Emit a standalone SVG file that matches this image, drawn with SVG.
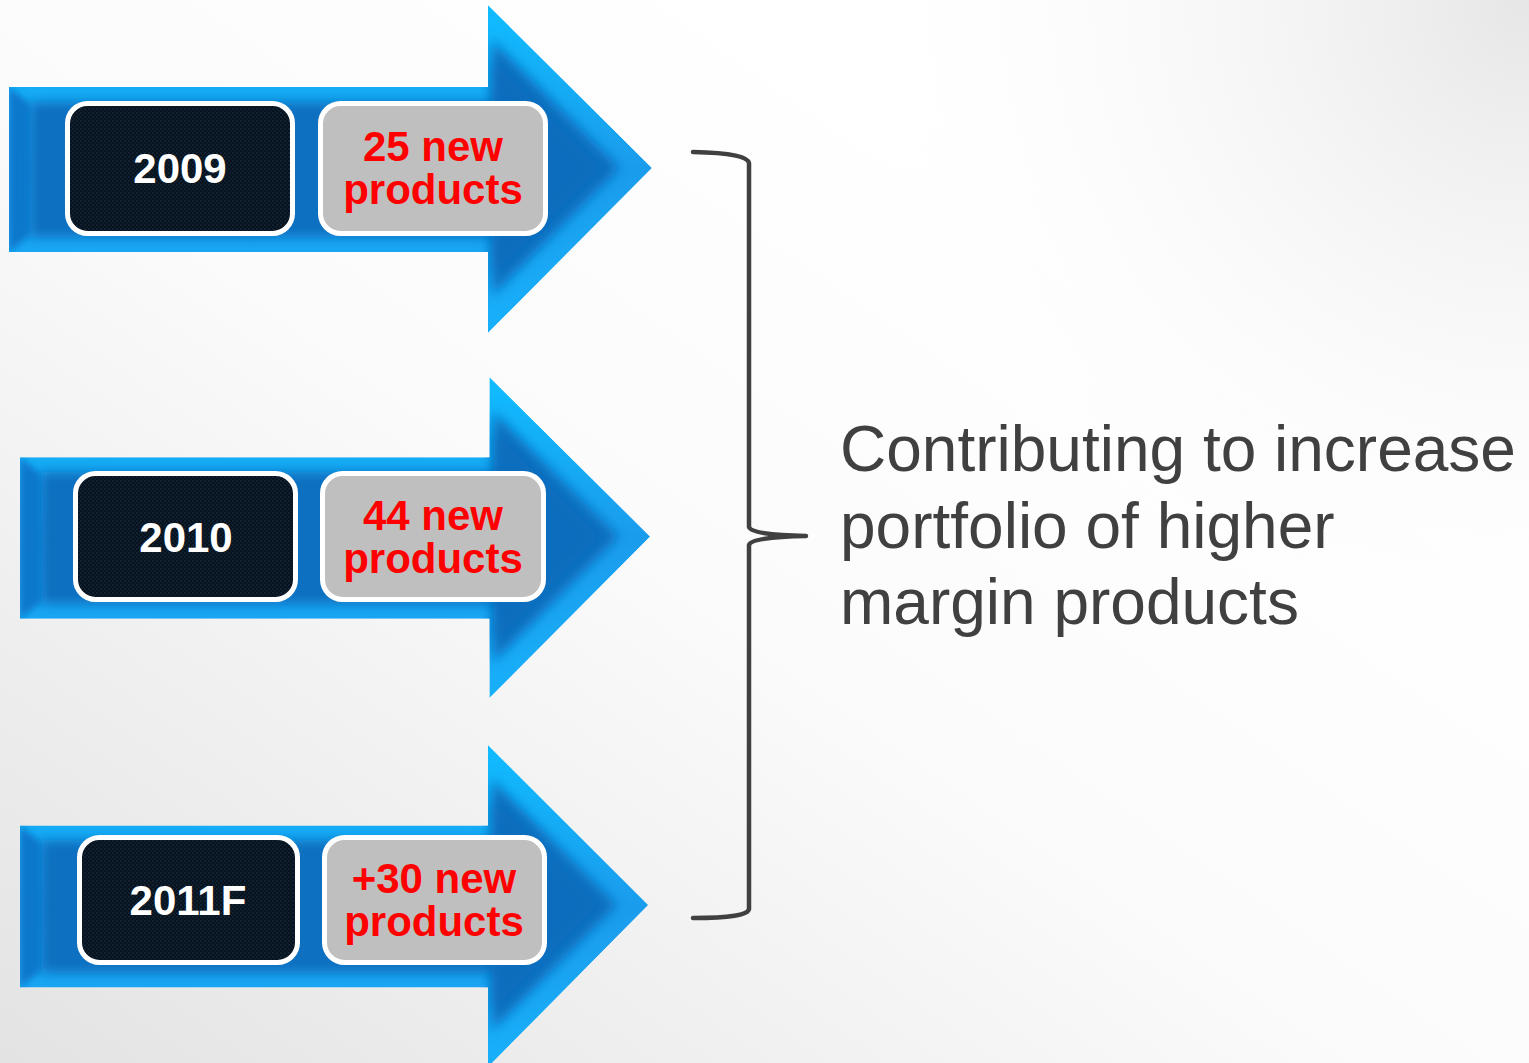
<svg xmlns="http://www.w3.org/2000/svg" width="1529" height="1063" viewBox="0 0 1529 1063">
  <defs>
    <linearGradient id="bg" x1="0" y1="1" x2="0.75" y2="0.25">
      <stop offset="0" stop-color="#e3e3e3"/>
      <stop offset="0.6" stop-color="#fbfbfb"/>
      <stop offset="1" stop-color="#ffffff"/>
    </linearGradient>
    <radialGradient id="corner" cx="1529" cy="0" r="700" gradientUnits="userSpaceOnUse">
      <stop offset="0" stop-color="#e6e6e6" stop-opacity="1"/>
      <stop offset="1" stop-color="#ffffff" stop-opacity="0"/>
    </radialGradient>
    <linearGradient id="rim" x1="0" y1="0" x2="0" y2="1">
      <stop offset="0" stop-color="#10bcff"/>
      <stop offset="0.5" stop-color="#1a9cec"/>
      <stop offset="1" stop-color="#18b0fa"/>
    </linearGradient>
    <filter id="soft" x="-10%" y="-10%" width="120%" height="120%">
      <feGaussianBlur stdDeviation="6"/>
    </filter>
    <filter id="softer" x="-20%" y="-20%" width="140%" height="140%">
      <feGaussianBlur stdDeviation="3"/>
    </filter>
    <pattern id="mesh" width="4" height="4" patternUnits="userSpaceOnUse">
      <rect width="4" height="4" fill="#08121c"/>
      <circle cx="1" cy="1" r="0.8" fill="#16334e"/>
      <circle cx="3" cy="3" r="0.8" fill="#12283e"/>
    </pattern>
    <clipPath id="arrowClip">
      <polygon points="9,87 488,87 488,5 652,168 488,333 488,252 9,252"/>
    </clipPath>
    <!-- bevelled block arrow, drawn once and placed per row -->
    <g id="arrow">
      <g clip-path="url(#arrowClip)">
        <polygon points="9,87 488,87 488,5 652,168 488,333 488,252 9,252" fill="url(#rim)"/>
        <polygon points="9,87 30,104 30,235 9,252" fill="#0a78cc" filter="url(#softer)"/>
        <polygon points="30,102 492,102 492,40 620,168 492,296 492,237 30,237" fill="#0a6fc0" filter="url(#soft)"/>
        <polygon points="492,60 600,168 492,276" fill="#0a6cbc" opacity="0.6" filter="url(#soft)"/>
      </g>
    </g>
  </defs>
  <style>
    .year { fill: url(#mesh); stroke: #ffffff; stroke-width: 5; }
    .count { fill: #bfbfbf; stroke: #ffffff; stroke-width: 5; }
    .yt { font-family: "Liberation Sans", Arial, sans-serif; font-weight: bold; font-size: 42px; fill: #ffffff; text-anchor: middle; }
    .ct { font-family: "Liberation Sans", Arial, sans-serif; font-weight: bold; font-size: 42px; fill: #ff0000; text-anchor: middle; }
    .note { font-family: "Liberation Sans", Arial, sans-serif; font-size: 64px; fill: #404040; }
    .brace { fill: none; stroke: #404040; stroke-width: 4.5; stroke-linecap: round; stroke-linejoin: round; }
  </style>

  <rect width="1529" height="1063" fill="url(#bg)"/>
  <rect width="1529" height="1063" fill="url(#corner)"/>

  <g id="node-2009">
    <use href="#arrow"/>
    <rect class="year" x="67.5" y="103.5" width="225" height="130" rx="20"/>
    <text class="yt" x="180" y="183">2009</text>
    <rect class="count" x="320.5" y="103.5" width="225" height="130" rx="20"/>
    <text class="ct" x="433" y="161">25 new</text>
    <text class="ct" x="433" y="204">products</text>
  </g>

  <g id="node-2010">
    <use href="#arrow" transform="translate(11.18,372.1) scale(0.98,0.979)"/>
    <rect class="year" x="75.5" y="473.5" width="220" height="126" rx="20"/>
    <text class="yt" x="186" y="552">2010</text>
    <rect class="count" x="322.5" y="473.5" width="221" height="126" rx="20"/>
    <text class="ct" x="433" y="530">44 new</text>
    <text class="ct" x="433" y="573">products</text>
  </g>

  <g id="node-2011F">
    <use href="#arrow" transform="translate(11.21,740.09) scale(0.977,0.982)"/>
    <rect class="year" x="79.5" y="837.5" width="218" height="125" rx="20"/>
    <text class="yt" x="188" y="915">2011F</text>
    <rect class="count" x="324.5" y="837.5" width="220" height="125" rx="20"/>
    <text class="ct" x="434" y="893">+30 new</text>
    <text class="ct" x="434" y="936">products</text>
  </g>

  <g id="connectors">
    <path class="brace" d="M693,152 Q748,153 749,163 L749,527 Q751,535 806,536 Q751,537 749,545 L749,909 Q748,918 693,918"/>
  </g>

  <g id="summary">
    <text class="note" x="840" y="471">Contributing to increase</text>
    <text class="note" x="840" y="548">portfolio of higher</text>
    <text class="note" x="840" y="624">margin products</text>
  </g>
</svg>
